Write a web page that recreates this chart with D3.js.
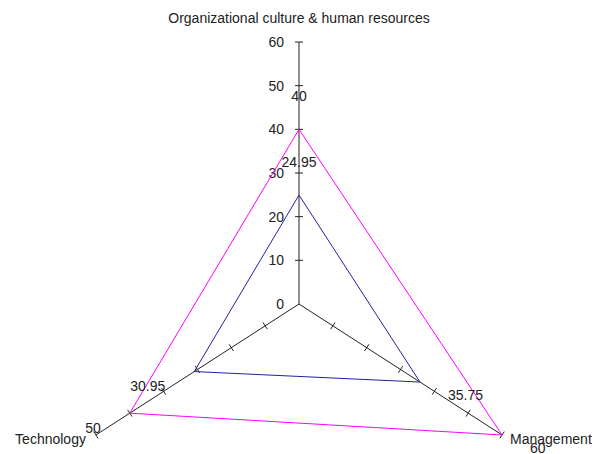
<!DOCTYPE html>
<html>
<head>
<meta charset="utf-8">
<script src="https://cdn.jsdelivr.net/npm/d3@7"></script>
<style>
  body { margin: 0; background: #fff; }
  text { font-family: "Liberation Sans", Arial, sans-serif; font-size: 14px; fill: #222; }
</style>
</head>
<body>
<div id="grafico"></div>
<script>
const ejes = ["Organizational culture & human resources", "Management", "Technology"];
const serieAzul = [24.95, 35.75, 30.95];
const serieMagenta = [40, 60, 50];
const marcas = [0, 10, 20, 30, 40, 50, 60];

const width = 605;
const height = 454;
const cx = 299, cy = 304;

const svg = d3.select("#grafico").append("svg")
  .attr("width", width)
  .attr("height", height);

// radio en vertical, el horizontal va algo comprimido
const r = d3.scaleLinear().domain([0, 60]).range([0, 262]);
const kx = 0.895;
const angulo = d3.scaleOrdinal().domain(ejes).range([-90, 30, 150].map(a => a * Math.PI / 180));

const punto = (eje, v) => {
  const a = angulo(eje);
  return [cx + r(v) * Math.cos(a) * kx, cy + r(v) * Math.sin(a)];
};

// Ejes
svg.append("g").selectAll("line")
  .data(ejes)
  .join("line")
  .attr("x1", cx).attr("y1", cy)
  .attr("x2", d => punto(d, 60)[0])
  .attr("y2", d => punto(d, 60)[1])
  .attr("stroke", "#222")
  .attr("stroke-width", 1);

// Marcas de los ejes
ejes.forEach(eje => {
  const [x0, y0] = punto(eje, 0);
  const [x1, y1] = punto(eje, 60);
  const len = Math.hypot(x1 - x0, y1 - y0);
  const px = -(y1 - y0) / len, py = (x1 - x0) / len;
  svg.append("g").selectAll("line")
    .data(marcas.slice(1))
    .join("line")
    .attr("x1", d => punto(eje, d)[0] - px * 4)
    .attr("y1", d => punto(eje, d)[1] - py * 4)
    .attr("x2", d => punto(eje, d)[0] + px * 4)
    .attr("y2", d => punto(eje, d)[1] + py * 4)
    .attr("stroke", "#222");
});

// Etiquetas del eje vertical
svg.append("g").selectAll("text")
  .data(marcas)
  .join("text")
  .attr("x", cx - 15)
  .attr("y", d => punto(ejes[0], d)[1])
  .attr("dy", "0.35em")
  .attr("text-anchor", "end")
  .text(d => d);

// Series
const linea = d3.line().curve(d3.curveLinearClosed);
const series = [
  { valores: serieMagenta, color: "#ff00ff" },
  { valores: serieAzul, color: "#22229a" },
];
series.forEach(s => {
  svg.append("path")
    .attr("d", linea(ejes.map((e, i) => punto(e, s.valores[i]))))
    .attr("fill", "none")
    .attr("stroke", s.color)
    .attr("stroke-width", 1);
});

// Etiquetas de datos
series.forEach(s => {
  svg.append("g").selectAll("text")
    .data(ejes.map((e, i) => ({ eje: e, v: s.valores[i] })))
    .join("text")
    .attr("x", (d, i) => punto(d.eje, d.v)[0] + [0, 28, -29][i])
    .attr("y", (d, i) => punto(d.eje, d.v)[1] + [-33, 13, 15][i])
    .attr("dy", "0.35em")
    .attr("text-anchor", (d, i) => ["middle", "start", "end"][i])
    .text(d => d.v);
});

// Nombres de los ejes
svg.append("g").selectAll("text")
  .data(ejes)
  .join("text")
  .attr("x", (d, i) => punto(d, 60)[0] + [0, 8, -10][i])
  .attr("y", (d, i) => punto(d, 60)[1] + [-24, 4, 4][i])
  .attr("dy", "0.35em")
  .attr("text-anchor", (d, i) => ["middle", "start", "end"][i])
  .text(d => d);
</script>
</body>
</html>
